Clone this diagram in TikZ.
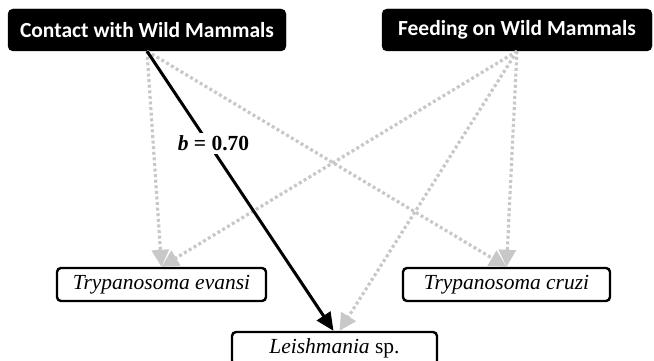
\documentclass[tikz,border=0pt]{standalone}
\usepackage{fontspec}
\setmainfont{Liberation Serif}
\newfontfamily\boxfont{Carlito}
\usetikzlibrary{arrows.meta}
\definecolor{dotgray}{RGB}{200,200,200}
\tikzset{
  causebox/.style={fill=black, draw=black, rounded corners=5pt, text=white,
    font=\boxfont\bfseries\fontsize{21.5}{25}\selectfont, inner sep=0pt,
    minimum height=42pt, anchor=center},
  outbox/.style={fill=white, draw=black, line width=2.4pt, rounded corners=4pt,
    font=\fontsize{21.5}{25}\selectfont, inner sep=0pt, minimum height=33pt,
    anchor=center},
  weakarrow/.style={draw=dotgray, line width=3.2pt, dash pattern=on 3pt off 2.6pt,
    -{Triangle[length=17pt,width=17pt,fill=dotgray]}},
  strongarrow/.style={draw=black, line width=3pt,
    -{Triangle[length=18pt,width=16pt]}},
  coef/.style={fill=white, font=\bfseries\fontsize{21.5}{24}\selectfont, inner sep=3pt}
}
\begin{document}
\begin{tikzpicture}[x=1pt,y=-1pt]
\useasboundingbox (0,0) rectangle (654,361);
\clip (0,0) rectangle (654,361);
\node[causebox, minimum width=278pt] (contact) at (147,30) {Contact with Wild Mammals};
\node[causebox, minimum width=270pt] (feeding) at (517,30) {Feeding on Wild Mammals};
\node[outbox, minimum width=209pt] (evansi) at (161.5,284.5) {\itshape Trypanosoma evansi};
\node[outbox, minimum width=207pt] (cruzi) at (506.5,284.5) {\itshape Trypanosoma cruzi};
\node[outbox, minimum width=205pt] (leish) at (334.5,348.5) {\textit{Leishmania} sp.};
\draw[weakarrow] (contact.south) -- (evansi.north);
\draw[weakarrow] (contact.south) -- (cruzi.north);
\draw[weakarrow] (feeding.south) -- (evansi.north);
\draw[weakarrow] (feeding.south) -- (cruzi.north);
\draw[weakarrow] (feeding.south) -- ([xshift=5pt]leish.north);
\draw[strongarrow] (contact.south) -- node[coef, pos=0.33, xshift=5pt] {\textit{b} = 0.70} ([xshift=-1pt]leish.north);
\end{tikzpicture}
\end{document}
